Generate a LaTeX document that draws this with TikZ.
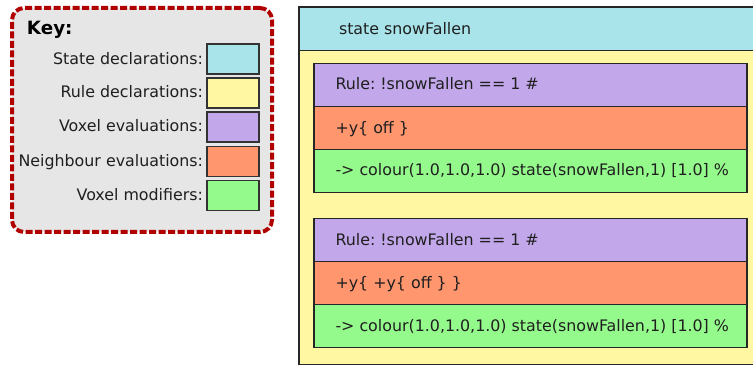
\documentclass[tikz,border=0pt]{standalone}
\usepackage{fontspec}
\setmainfont{DejaVu Sans}
\frenchspacing
\begin{document}
\begin{tikzpicture}[x=1pt,y=-1pt,
  every node/.style={inner sep=0pt,outer sep=0pt},
  lbl/.style={font=\fontsize{15.85}{18}\selectfont,text=black!88},
  swatch/.style={draw=black!80,line width=1.4pt,anchor=north west,minimum width=52pt,minimum height=30pt},
  band/.style={draw=black!85,line width=1.3pt,anchor=north west,minimum width=433pt,minimum height=43pt},
  statecol/.style={fill=cyanS},
  rulecol/.style={fill=yellowS},
  voxcol/.style={fill=purpleS},
  neighcol/.style={fill=orangeS},
  modcol/.style={fill=greenS}]
\definecolor{cyanS}{HTML}{A9E4EB}
\definecolor{yellowS}{HTML}{FFF7A1}
\definecolor{purpleS}{HTML}{C2A7EA}
\definecolor{orangeS}{HTML}{FF966E}
\definecolor{greenS}{HTML}{95FA8C}
\definecolor{keybg}{HTML}{E6E6E6}
\definecolor{keyred}{HTML}{B00000}
\useasboundingbox (0,0) rectangle (753,366);
\clip (0,0) rectangle (753,366);

% key panel
\node[draw=keyred,fill=keybg,line width=4pt,rounded corners=12pt,
  dash pattern=on 7pt off 2.5pt,anchor=north west,
  minimum width=260pt,minimum height=224pt] (key) at (12,8) {};
\node[anchor=base west,font=\bfseries\fontsize{18.3}{20}\selectfont] (keytitle) at (27,35) {Key:};

\node[swatch,statecol] (s1) at (207,44) {};
\node[swatch,rulecol]  (s2) at (207,78) {};
\node[swatch,voxcol]   (s3) at (207,112) {};
\node[swatch,neighcol] (s4) at (207,146.5) {};
\node[swatch,modcol]   (s5) at (207,180.5) {};
\node[lbl,anchor=base east] (l1) at (203,65) {State declarations:};
\node[lbl,anchor=base east] (l2) at (203,97.5) {Rule declarations:};
\node[lbl,anchor=base east] (l3) at (203,132) {Voxel evaluations:};
\node[lbl,anchor=base east] (l4) at (203,166.5) {Neighbour evaluations:};
\node[lbl,anchor=base east] (l5) at (203,200.5) {Voxel modifiers:};

% state block
\node[draw=black!85,line width=1.2pt,rulecol,anchor=north west,
  minimum width=470pt,minimum height=357.5pt] (state) at (299,7) {};
\node[draw=black!85,line width=1.2pt,statecol,anchor=north west,
  minimum width=470pt,minimum height=43.5pt] (statehead) at (299,7) {};
\node[lbl,anchor=base west] (statetext) at (339,35) {state snowFallen};

% first rule
\node[band,voxcol]   (r1v) at (314,63.3) {};
\node[band,neighcol] (r1n) at (314,106.5) {};
\node[band,modcol]   (r1m) at (314,149.7) {};
\node[lbl,anchor=base west] (t1v) at (335.5,90) {Rule: !snowFallen == 1 \#};
\node[lbl,anchor=base west] (t1n) at (335.5,133.3) {+y\{ off \}};
\node[lbl,anchor=base west] (t1m) at (335.5,175.8) {-> colour(1.0,1.0,1.0) state(snowFallen,1) [1.0] \%};

% second rule
\node[band,voxcol]   (r2v) at (314,218.3) {};
\node[band,neighcol] (r2n) at (314,261.4) {};
\node[band,modcol]   (r2m) at (314,304.6) {};
\node[lbl,anchor=base west] (t2v) at (335.5,245.3) {Rule: !snowFallen == 1 \#};
\node[lbl,anchor=base west] (t2n) at (335.5,288.3) {+y\{ +y\{ off \} \}};
\node[lbl,anchor=base west] (t2m) at (335.5,331) {-> colour(1.0,1.0,1.0) state(snowFallen,1) [1.0] \%};
\end{tikzpicture}
\end{document}
